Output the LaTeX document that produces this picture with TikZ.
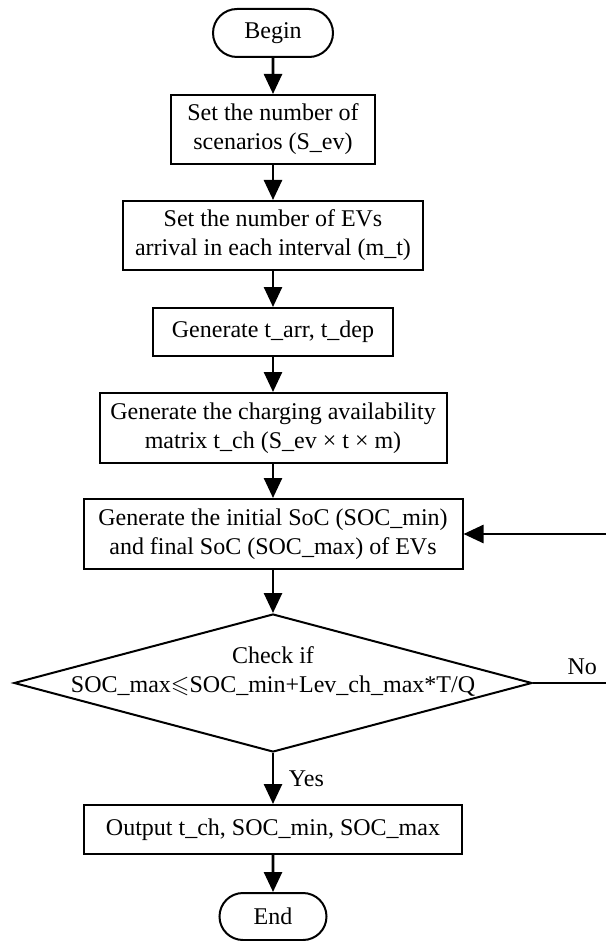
\documentclass[tikz,border=0pt]{standalone}
\usepackage{fontspec}
\setmainfont{Liberation Serif}
\usepackage{amssymb}
\usetikzlibrary{arrows.meta,shapes.geometric,shapes.misc}
\usetikzlibrary{positioning}
\tikzset{term node/.style={rounded rectangle,draw,line width=1pt,minimum height=24pt,inner sep=0pt},
         proc node/.style={rectangle,draw,line width=1pt,align=center,inner sep=0pt},
         dec node/.style={diamond,draw,line width=1pt,minimum width=259pt,minimum height=69pt,inner sep=0pt},
            }

\begin{document}
\begin{tikzpicture}[x=0.5pt,y=-0.5pt,font=\fontsize{12pt}{14.5pt}\selectfont,->,>={Triangle[length=10pt,width=9pt]}]
    \useasboundingbox (0,0) rectangle (605,941);
    \node[term node,minimum width=60pt] (begin) at (273,33) {Begin};
    \node[proc node,minimum width=102pt,minimum height=34.5pt] (set1) [below= 18pt of begin] {Set the number of\\scenarios (S\_ev)};
    \node[proc node,minimum width=150pt,minimum height=34.5pt] (set2) [below= 17.5pt of set1] {Set the number of EVs\\arrival in each interval (m\_t)};
    \node[proc node,minimum width=120pt,minimum height=24pt] (gen1) [below= 18pt of set2] {Generate t\_arr, t\_dep};
    \node[proc node,minimum width=173.5pt,minimum height=35pt] (gen2) [below= 17.5pt of gen1] {Generate the charging availability\\matrix t\_ch (S\_ev × t × m)};
    \node[proc node,minimum width=189.5pt,minimum height=35pt] (gen3) [below= 17pt of gen2] {Generate the initial SoC (SOC\_min)\\and final SoC (SOC\_max) of EVs};
    \node[dec node] (check) [below= 21.5pt of gen3] {};
    \node[align=center,inner sep=0pt] (checktext) at ([yshift=6pt]check.center) {Check if\\SOC\_max$\leqslant$SOC\_min+Lev\_ch\_max*T/Q};
    \node[proc node,minimum width=189pt,minimum height=24.5pt] (out) [below= 25.5pt of check] {Output t\_ch, SOC\_min, SOC\_max};
    \node[term node,minimum width=53.5pt,minimum height=23.5pt] (stop) [below= 18.5pt of out] {End};
    \coordinate (rim) at (610,0);

    \path[draw,line width=1.3pt]
    (begin) edge (set1)
    (set1) edge (set2)
    (set2) edge (gen1)
    (gen1) edge (gen2)
    (gen2) edge (gen3)
    (gen3) edge (check)
    (check) edge node[right,xshift=4pt] {Yes} (out)
    (out) edge (stop);
    \draw[line width=1.3pt] (check.east) -- node[above,pos=0.64] {No} (check.east -| rim) -- (gen3.east -| rim) -- (gen3.east);
  \end{tikzpicture}
\end{document}
